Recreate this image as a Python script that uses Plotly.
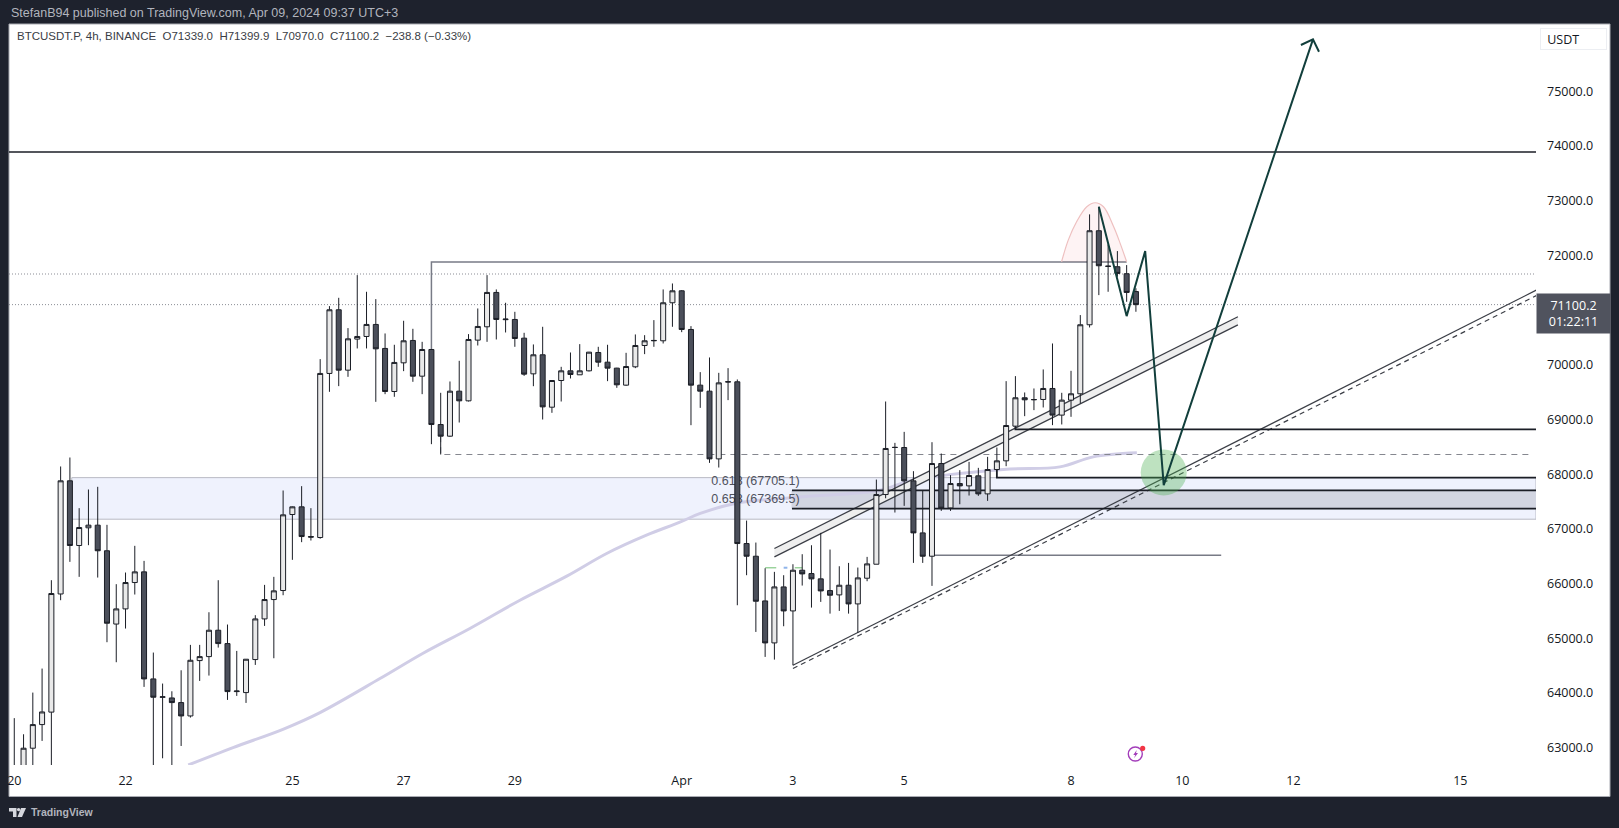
import plotly.graph_objects as go

# 4h candles, bar 0 = Mar 20
opens = [62300, 62500, 62990, 63422, 63650, 65810, 67879, 66696, 67020, 67068, 66600, 65260, 65537, 66019, 66214, 64257,
         63920, 63909, 63824, 63580, 64592, 64665, 65147, 64903, 64025, 64007, 64611, 65354, 65708, 65873, 67263, 67403,
         66860, 66842, 69842, 71006, 69902, 70470, 70518, 70738, 70299, 69512, 70036, 70445, 69792, 70280, 68908, 68695,
         69518, 69341, 70451, 70695, 71323, 70825, 70829, 70487, 69835, 70183, 69225, 69713, 69890, 69817, 69890, 70225,
         70048, 69939, 69628, 69963, 70353, 70439, 70439, 71134, 71353, 70646, 69628, 69518, 68280, 69685, 69689, 66732,
         66500, 65683, 64915, 65939, 65500, 66244, 66183, 66086, 65872, 65793, 65970, 65628, 66098, 66354, 67628, 68488,
         68488, 67878, 66927, 66500, 68195, 67384, 67829, 67786, 67970, 67640, 68085, 68244, 68878, 69397, 69360, 69366,
         69567, 69080, 69354, 69470, 70732, 72451, 71805, 71793, 71665, 71339]
highs = [63540, 63245, 64007, 64446, 66062, 68141, 68305, 67379, 67720, 67769, 67074, 65989, 66202, 66690, 66415, 64739,
         64172, 64031, 64415, 64879, 64879, 65476, 66062, 65251, 64769, 64620, 65422, 65976, 66123, 67702, 67410, 67781,
         67379, 70104, 71073, 71225, 70671, 71640, 71335, 71201, 70573, 70366, 70805, 70658, 70420, 70280, 69488, 69695,
         70073, 70561, 71030, 71640, 71378, 71134, 70969, 70585, 70372, 70695, 69720, 69963, 70225, 70378, 70236, 70329,
         70366, 69945, 70219, 70555, 70542, 70817, 71378, 71487, 71365, 70707, 69866, 70134, 69853, 69939, 69732, 67152,
         66750, 66281, 66214, 66153, 66354, 66537, 66701, 66927, 66622, 66317, 66378, 66293, 66488, 67902, 69329, 68573,
         68774, 68055, 67695, 68585, 68378, 67982, 68073, 68225, 68116, 68317, 68488, 69701, 69793, 69494, 69567, 69915,
         70390, 69488, 69890, 70909, 72750, 72890, 72200, 72079, 71823, 71399.9]
lows = [62000, 62300, 62600, 63123, 62600, 65696, 66397, 66123, 66702, 66110, 64928, 64562, 65178, 65800, 64111, 62600,
        62806, 62600, 63031, 63550, 64220, 64318, 64830, 63873, 63946, 63818, 64513, 65226, 64635, 65787, 66434, 66757,
        66787, 66820, 69506, 69610, 69780, 70299, 70299, 69323, 69463, 69415, 69884, 69689, 69463, 68549, 68360, 68683,
        68945, 69329, 70353, 70420, 70463, 70591, 70329, 69798, 69609, 69000, 69122, 69329, 69750, 69817, 69878, 69963,
        69701, 69579, 69616, 69939, 70195, 70329, 70390, 70695, 70597, 68896, 69213, 68207, 68122, 69354, 65604, 66153,
        65116, 64659, 64610, 65220, 64506, 65964, 65561, 65665, 65451, 65500, 65451, 65098, 66043, 66354, 67560, 67299,
        67421, 66378, 66378, 65958, 67329, 67329, 67451, 67610, 67604, 67512, 68085, 68146, 68854, 69061, 69171, 69220,
        68897, 68909, 69049, 69293, 70683, 71274, 71335, 71610, 71152, 70970]
closes = [62500, 62990, 63422, 63653, 65818, 67879, 66696, 67025, 67068, 66600, 65275, 65537, 66019, 66214, 64257, 63922,
          63930, 63824, 63580, 64598, 64665, 65147, 64903, 64025, 64035, 64617, 65354, 65708, 65867, 67257, 67403, 66860,
          66850, 69842, 71006, 69902, 70475, 70518, 70738, 70292, 69512, 70043, 70439, 69792, 70280, 68908, 68695, 69518,
          69341, 70463, 70701, 71323, 70829, 70835, 70481, 69829, 70183, 69231, 69713, 69890, 69823, 69890, 70231, 70048,
          69939, 69634, 69969, 70353, 70439, 70445, 71134, 71353, 70646, 69628, 69518, 68280, 69670, 69690, 66732, 66500,
          65677, 64915, 65939, 65500, 66244, 66177, 66086, 65866, 65787, 65970, 65628, 66104, 66360, 67628, 68470, 68490,
          67878, 66927, 66500, 68195, 67378, 67829, 67786, 67976, 67640, 68085, 68244, 68890, 69397, 69360, 69365, 69567,
          69080, 69354, 69470, 70732, 72451, 71811, 71800, 71671, 71323, 71100.2]
bars = list(range(len(closes)))

# moving average
ma_bars = [18.77, 23.6, 28.98, 32.98, 39.45, 44.1, 49.2, 54.55, 59.6, 63.9, 68.2, 71.8, 74, 77.9, 84.75, 93.4, 96.9,
           106.7, 112.8, 116.4, 121.1]
ma_vals = [62684, 63002, 63336, 63642, 64264, 64727, 65184, 65696, 66135, 66550, 66885, 67122, 67282, 67470, 67585,
           67708, 67891, 68086, 68134, 68317, 68390]

tick_bars = [0, 12, 30, 42, 54, 72, 84, 96, 114, 126, 138, 156]
tick_text = ["20", "22", "25", "27", "29", "Apr", "3", "5", "8", "10", "12", "15"]
price_ticks = [63000, 64000, 65000, 66000, 67000, 68000, 69000, 70000, 72000, 73000, 74000, 75000]

x_range = [-0.57, 164.16]
y_range = [62683, 76231]
x_end = x_range[1]

# drawings
resistance = 73890
dotted_levels = [71660, 71100]
zone_top, zone_bottom, zone_start = 67937, 67177, 6.2
fib_618, fib_658, fib_start = 67705.1, 67369.5, 83.9
fib_labels = ["0.618 (67705.1)", "0.658 (67369.5)"]
fib_label_y = [67867, 67525]
fib_label_x = 75.2

upper_a_x, upper_a_y = [82, 132], [66642, 70878]
upper_b_x, upper_b_y = [82, 132], [66488, 70731]
lower_x, lower_y = [84, 164.2], [64507, 71366]
lower_dash_x, lower_dash_y = [84, 164.2], [64447, 71265]

box_x, box_y = [45, 45, 120], [68908, 71878, 71878]
dash_x, dash_y = [46, 46, 163.8], [68695, 68360, 68360]
short_x, short_y = [99, 130.2], [66519, 66519]
step1_x, step1_y = [106, 106, x_end], [68085, 67937, 67937]
step2_x, step2_y = [108, 108, x_end], [68878, 68818, 68818]

arc_x = [112.98, 113.7, 114.6, 115.7, 116.6, 117.5, 118.6, 119.3, 120]
arc_y = [71884, 72280, 72616, 72890, 72963, 72890, 72524, 72220, 71884]

path_x = [117, 120, 122, 124, 140.1]
path_y = [72890, 70890, 72080, 67800, 75951]
head_x = [138.8, 140.1, 140.75]
head_y = [75847, 75951, 75724]

target_x, target_y = [124.0], [68030]

FONT = "Open Sans, sans-serif"
SANS = "Liberation Sans, Arial, sans-serif"
NARROW = "Liberation Sans Narrow, Liberation Sans, sans-serif"
INK = "#1b1e26"
FRAME = "#1e222d"
MA_COLOR = "#d0cde6"
GRAY = "#787b86"
GREEN = "#123f3c"


def line(x, y, color=INK, width=1.5, dash="solid", shape="linear"):
    return go.Scatter(x=x, y=y, mode="lines", line=dict(color=color, width=width, dash=dash, shape=shape),
                      hoverinfo="skip", showlegend=False)


def band(x0, x1, y0, y1, color, edge=None):
    return go.Scatter(x=[x0, x1, x1, x0, x0], y=[y0, y0, y1, y1, y0], mode="lines", fill="toself", fillcolor=color,
                      line=dict(color=edge or color, width=1), hoverinfo="skip", showlegend=False)


fig = go.Figure()

# everything on x/y sits behind the candles
fig.add_trace(band(zone_start, x_end, zone_bottom, zone_top, "#eff2fd", "#b9bac4"))
fig.add_trace(band(fib_start, x_end, fib_658, fib_618, "#d2d5e1"))
fig.add_trace(line(x_range, [resistance] * 2, width=1.6))
for level in dotted_levels:
    fig.add_trace(line(x_range, [level] * 2, color="#8b8d95", width=1, dash="1px,2px"))
fig.add_trace(line(ma_bars, ma_vals, color=MA_COLOR, width=3, shape="spline"))
fig.add_trace(line(box_x, box_y, color=GRAY, width=1.5))
fig.add_trace(line(dash_x, dash_y, color="#85878f", width=1, dash="6px,5px"))
fig.add_trace(line(short_x, short_y, color=GRAY, width=1.5))
fig.add_trace(go.Scatter(x=upper_a_x + upper_b_x[::-1], y=upper_a_y + upper_b_y[::-1], mode="lines", fill="toself",
                         fillcolor="#eeeeee", line=dict(width=0), hoverinfo="skip", showlegend=False))
fig.add_trace(line(upper_a_x, upper_a_y, color="#3b3e46", width=1.3))
fig.add_trace(line(upper_b_x, upper_b_y, color="#3b3e46", width=1.3))
fig.add_trace(line(lower_x, lower_y, color="#3b3e46", width=1.2))
fig.add_trace(line(lower_dash_x, lower_dash_y, color="#3b3e46", width=1.2, dash="5px,4px"))
fig.add_trace(line([fib_start, x_end], [fib_618] * 2, width=1.8))
fig.add_trace(line([fib_start, x_end], [fib_658] * 2, width=1.8))
fig.add_trace(line(step1_x, step1_y, width=1.8))
fig.add_trace(line(step2_x, step2_y, width=1.8))
fig.add_trace(line([81, 82.2], [66290, 66290], color="#9ad39c", width=1.5))
fig.add_trace(line([83, 83.4], [66290, 66290], color="#8fb4ea", width=2))
fig.add_trace(line([84.2, 85], [66290, 66290], color="#9ad39c", width=1.5))
fig.add_trace(go.Scatter(x=arc_x, y=arc_y, mode="lines", line=dict(color="#eec0c0", width=1.2, shape="spline"),
                         fill="toself", fillcolor="rgba(242,54,69,0.06)", hoverinfo="skip", showlegend=False))
fig.add_trace(go.Scatter(x=[fib_label_x] * 2, y=fib_label_y, text=fib_labels, mode="text", textposition="middle right",
                         textfont=dict(family=NARROW, size=12.5, color="#50535e"), hoverinfo="skip", showlegend=False))

fig.add_trace(go.Candlestick(
    x=bars, open=opens, high=highs, low=lows, close=closes, xaxis="x2", yaxis="y2", whiskerwidth=0,
    increasing=dict(line=dict(color=INK, width=1), fillcolor="#e9e9e9"),
    decreasing=dict(line=dict(color=INK, width=1), fillcolor="#4b4f5a"),
    hoverinfo="skip", showlegend=False))

# projection goes over the candles
fig.add_trace(go.Scatter(x=target_x, y=target_y, mode="markers", xaxis="x3", yaxis="y3",
                         marker=dict(size=46, color="rgba(76,175,80,0.36)", line=dict(width=0)),
                         hoverinfo="skip", showlegend=False))
for xs, ys in [(path_x, path_y), (head_x, head_y)]:
    fig.add_trace(go.Scatter(x=xs, y=ys, mode="lines", xaxis="x3", yaxis="y3",
                             line=dict(color=GREEN, width=2), hoverinfo="skip", showlegend=False))

W, H = 1619, 828
L, R, T, B = 9, 83, 24, 63


def px(x, y):
    return (x - L) / (W - L - R), 1 - (y - T) / (H - T - B)


def poly(points):
    return "M" + " L".join("%.5f,%.5f" % px(*p) for p in points) + " Z"


def circle(cx, cy, r, **kw):
    x0, y0 = px(cx - r, cy + r)
    x1, y1 = px(cx + r, cy - r)
    return dict(type="circle", xref="paper", yref="paper", x0=x0, y0=y0, x1=x1, y1=y1, **kw)


p0 = px(9, 796.5)
p1 = px(1610, 24)
shapes = [
    dict(type="rect", xref="paper", yref="paper", x0=p0[0], y0=p0[1], x1=p1[0], y1=p1[1], layer="below",
         fillcolor="#ffffff", line=dict(color="#a9abb2", width=1)),
    # TradingView logo
    dict(type="path", xref="paper", yref="paper", path=poly([(9, 808), (16.5, 808), (16.5, 817), (13, 817), (13, 811.5), (9, 811.5)]),
         fillcolor="#d6d8de", line=dict(width=0)),
    dict(type="path", xref="paper", yref="paper", path=poly([(21, 808), (26, 808), (22, 817), (17.5, 817)]),
         fillcolor="#d6d8de", line=dict(width=0)),
    circle(18.6, 809.6, 1.7, fillcolor="#d6d8de", line=dict(width=0)),
    # lightning badge
    circle(1135.3, 754, 7, fillcolor="rgba(0,0,0,0)", line=dict(color="#a33dba", width=1.4)),
    circle(1142.7, 748.3, 2.6, fillcolor="#f23645", line=dict(width=0)),
    dict(type="path", xref="paper", yref="paper",
         path=poly([(1136.7, 750), (1133.3, 755), (1135.3, 755), (1134, 758.3), (1138, 753), (1136, 753)]),
         fillcolor="#a33dba", line=dict(width=0)),
]

legend_text = "&nbsp;&nbsp;".join(["BTCUSDT.P, 4h, BINANCE", "O71339.0", "H71399.9", "L70970.0", "C71100.2",
                                   "\u2212238.8 (\u22120.33%)"])

annotations = [
    dict(text="StefanB94 published on TradingView.com, Apr 09, 2024 09:37 UTC+3", xref="paper", yref="paper",
         x=px(9, 0)[0], y=px(0, 13)[1], xanchor="left", yanchor="middle", showarrow=False,
         font=dict(family=NARROW, size=12.5, color="#b2b5be")),
    dict(text=legend_text, xref="paper", yref="paper", x=px(15, 0)[0], y=px(0, 36.5)[1], xanchor="left",
         yanchor="middle", showarrow=False, font=dict(family=NARROW, size=11.5, color="#3a3d45")),
    dict(text="<b>TradingView</b>", xref="paper", yref="paper", x=px(29, 0)[0], y=px(0, 812)[1], xanchor="left",
         yanchor="middle", showarrow=False, font=dict(family=SANS, size=10.5, color="#b2b5be")),
    dict(text="&nbsp;USDT", xref="paper", yref="paper", x=px(1540, 0)[0], y=px(0, 39)[1], xanchor="left", yanchor="middle",
         showarrow=False, width=59, height=14, align="left", bordercolor="#eceef2", borderwidth=1, borderpad=3,
         font=dict(family=FONT, size=12.5, color="#131722")),
    dict(text="71100.2<br>01:22:11", xref="paper", yref="paper", x=px(1536, 0)[0], y=px(0, 313.8)[1], xanchor="left",
         yanchor="middle", showarrow=False, width=71, height=37, align="center", bgcolor="#50535e",
         font=dict(family=FONT, size=12.5, color="#ffffff")),
]

fig.update_layout(
    width=W, height=H, margin=dict(l=L, r=R, t=T, b=B, autoexpand=False),
    paper_bgcolor=FRAME, plot_bgcolor="#ffffff", showlegend=False, boxgap=0.23,
    font=dict(family=FONT, size=13, color="#131722"),
    shapes=shapes, annotations=annotations,
    xaxis=dict(range=x_range, tickmode="array", tickvals=tick_bars, ticktext=tick_text, showgrid=False, zeroline=False,
               ticklen=0, ticks="", showline=False, ticklabelstandoff=6, tickfont=dict(family=FONT, size=12.5, color="#131722")),
    yaxis=dict(range=y_range, side="right", tickmode="array", tickvals=price_ticks, tickformat=".1f", showgrid=False,
               zeroline=False, ticks="", showline=False, ticklabelstandoff=10,
               tickfont=dict(family=FONT, size=12.5, color="#131722")),
)
for n in ("2", "3"):
    fig.update_layout({
        "xaxis" + n: dict(range=x_range, overlaying="x", visible=False, rangeslider=dict(visible=False)),
        "yaxis" + n: dict(range=y_range, overlaying="y", visible=False, side="right"),
    })

fig.write_html("out.html", config=dict(displayModeBar=False),
               post_script="document.body.style.margin='0';document.body.style.overflow='hidden';")
